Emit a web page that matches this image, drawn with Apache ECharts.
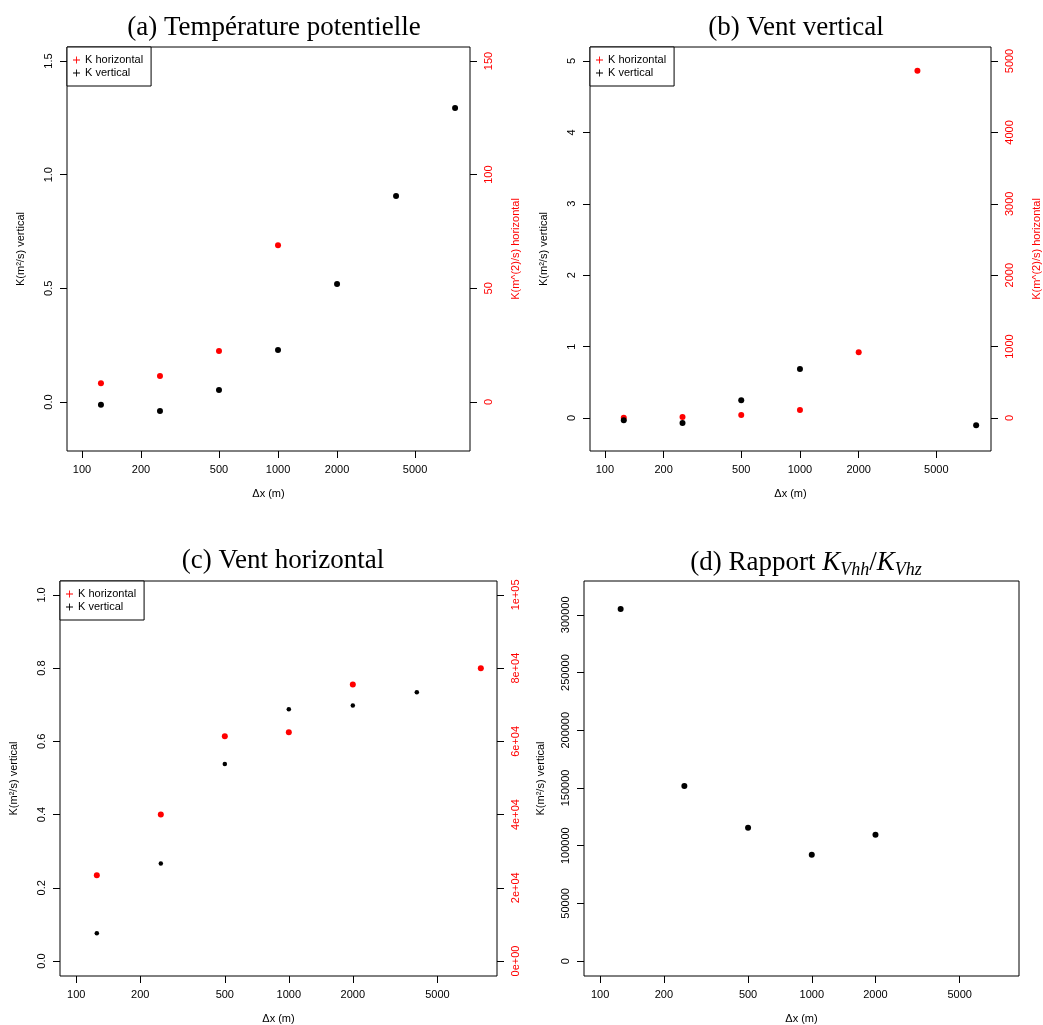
<!DOCTYPE html>
<html>
<head>
<meta charset="utf-8">
<script src="https://cdn.jsdelivr.net/npm/echarts@6/dist/echarts.min.js"></script>
<style>
  html, body { margin: 0; padding: 0; background: #fff; }
  #chart { width: 1043px; height: 1025px; }
</style>
</head>
<body>
<div id="chart"></div>
<script>
// (a) Température potentielle
var aHorizX = [125, 250, 500, 1000];
var aHoriz = [8.2, 11.4, 22.4, 69.0];
var aVertX = [125, 250, 500, 1000, 2000, 4000, 8000];
var aVert = [-0.012, -0.04, 0.053, 0.229, 0.519, 0.906, 1.293];

// (b) Vent vertical
var bHorizX = [125, 250, 500, 1000, 2000, 4000];
var bHoriz = [5, 14, 42, 112, 920, 4864];
var bVertX = [125, 250, 500, 1000, 8000];
var bVert = [-0.03, -0.07, 0.25, 0.686, -0.1];

// (c) Vent horizontal
var cHorizX = [125, 250, 500, 1000, 2000, 8000];
var cHoriz = [23400, 40000, 61400, 62500, 75500, 80000];
var cVertX = [125, 250, 500, 1000, 2000, 4000];
var cVert = [0.076, 0.266, 0.538, 0.688, 0.698, 0.734];

// (d) Rapport
var dRatioX = [125, 250, 500, 1000, 2000];
var dRatio = [305000, 151700, 115500, 92200, 109500];

// ticks
var xTicks = [100, 200, 500, 1000, 2000, 5000];
var aLeftTicks = [0, 0.5, 1, 1.5];
var aLeftLabels = ['0.0', '0.5', '1.0', '1.5'];
var aRightTicks = [0, 50, 100, 150];
var bLeftTicks = [0, 1, 2, 3, 4, 5];
var bRightTicks = [0, 1000, 2000, 3000, 4000, 5000];
var cLeftTicks = [0, 0.2, 0.4, 0.6, 0.8, 1.0];
var cLeftLabels = ['0.0', '0.2', '0.4', '0.6', '0.8', '1.0'];
var cRightTicks = [0, 20000, 40000, 60000, 80000, 100000];
var cRightLabels = ['0e+00', '2e+04', '4e+04', '6e+04', '8e+04', '1e+05'];
var dTicks = [0, 50000, 100000, 150000, 200000, 250000, 300000];

var chart = echarts.init(document.getElementById('chart'));

var sans = 'Liberation Sans, Arial, sans-serif';
var serif = 'Liberation Serif, Times New Roman, serif';
var plus = 'path://M3.5,0H4.5V3.5H8V4.5H4.5V8H3.5V4.5H0V3.5H3.5Z';

function pairs(xs, ys) {
  return xs.map(function (x, i) { return [x, ys[i]]; });
}

function lookup(ticks, labels) {
  return function (v) {
    for (var i = 0; i < ticks.length; i++) {
      if (Math.abs(ticks[i] - v) < 1e-6 * (Math.abs(ticks[i]) + 1)) return labels[i];
    }
    return String(v);
  };
}

function xAx(grid) {
  return {
    type: 'log', gridIndex: grid, min: 83.9, max: 9532,
    name: 'Δx (m)', nameLocation: 'middle', nameGap: 37,
    nameTextStyle: { fontFamily: sans, fontSize: 11, color: '#000' },
    axisLine: { show: false, onZero: false },
    splitLine: { show: false },
    axisTick: { show: true, length: 7, customValues: xTicks, lineStyle: { color: '#000' } },
    axisLabel: {
      customValues: xTicks, margin: 13, fontFamily: sans, fontSize: 11, color: '#000',
      formatter: function (v) { return String(Math.round(v)); }
    }
  };
}

function yAx(grid, pos, min, max, ticks, fmt, name, color, nameGap) {
  return {
    type: 'value', gridIndex: grid, position: pos, min: min, max: max,
    name: name, nameLocation: 'middle', nameGap: nameGap, nameRotate: 90,
    nameTextStyle: { fontFamily: sans, fontSize: 11, color: color },
    axisLine: { show: false, onZero: false },
    splitLine: { show: false },
    axisTick: { show: true, length: 7, customValues: ticks, lineStyle: { color: '#000' } },
    axisLabel: {
      customValues: ticks, rotate: 90, margin: 13, fontFamily: sans, fontSize: 11,
      color: color, formatter: fmt
    }
  };
}

function legendAt(left, top) {
  return {
    left: left, top: top, orient: 'vertical',
    data: ['K horizontal', 'K vertical'],
    icon: plus, itemWidth: 7, itemHeight: 7, itemGap: 1,
    padding: [7, 8, 7, 6],
    borderColor: '#000', borderWidth: 1, borderRadius: 0,
    backgroundColor: '#fff',
    textStyle: { fontFamily: sans, fontSize: 11, color: '#000', lineHeight: 12 },
    selectedMode: false
  };
}

function sc(name, color, size, xi, yi, data) {
  return {
    type: 'scatter', name: name, xAxisIndex: xi, yAxisIndex: yi,
    symbolSize: size, itemStyle: { color: color, opacity: 1 },
    data: data, animation: false, silent: true
  };
}

var num = function (v) { return String(Math.round(v)); };
var vLabel = 'K(m²/s) vertical';
var hLabel = 'K(m^(2)/s) horizontal';

var titleStyle = { fontFamily: serif, fontSize: 27, fontWeight: 'normal', color: '#000' };

var option = {
  backgroundColor: '#fff',
  animation: false,
  title: [
    { text: '(a) Température potentielle', left: 269, top: 9, textAlign: 'center', textStyle: titleStyle },
    { text: '(b) Vent vertical', left: 791, top: 9, textAlign: 'center', textStyle: titleStyle },
    { text: '(c) Vent horizontal', left: 278, top: 542, textAlign: 'center', textStyle: titleStyle },
    {
      text: '(d) Rapport {it|K}{sub|Vhh}/{it|K}{sub|Vhz}', left: 801, top: 542, textAlign: 'center',
      textStyle: Object.assign({}, titleStyle, {
        rich: {
          it: { fontFamily: serif, fontSize: 27, fontStyle: 'italic', color: '#000' },
          sub: { fontFamily: serif, fontSize: 18, fontStyle: 'italic', color: '#000', padding: [14, 0, 0, 0] }
        }
      })
    }
  ],
  legend: [legendAt(67, 47), legendAt(590, 47), legendAt(60, 581)],
  grid: [
    { left: 67, top: 47, width: 403, height: 404, show: true, borderColor: '#000', borderWidth: 1, backgroundColor: 'transparent' },
    { left: 590, top: 47, width: 403, height: 404, show: true, borderColor: '#000', borderWidth: 1, backgroundColor: 'transparent' },
    { left: 60, top: 581, width: 437, height: 397, show: true, borderColor: '#000', borderWidth: 1, backgroundColor: 'transparent' },
    { left: 584, top: 581, width: 435, height: 397, show: true, borderColor: '#000', borderWidth: 1, backgroundColor: 'transparent' }
  ],
  xAxis: [xAx(0), xAx(1), xAx(2), xAx(3)],
  yAxis: [
    yAx(0, 'left', -0.2155, 1.5616, aLeftTicks, lookup(aLeftTicks, aLeftLabels), vLabel, '#000', 41),
    yAx(0, 'right', -21.55, 156.16, aRightTicks, num, hLabel, '#ff0000', 40),
    yAx(1, 'left', -0.462, 5.196, bLeftTicks, num, vLabel, '#000', 41),
    yAx(1, 'right', -462, 5196, bRightTicks, num, hLabel, '#ff0000', 40),
    yAx(2, 'left', -0.041, 1.038, cLeftTicks, lookup(cLeftTicks, cLeftLabels), vLabel, '#000', 41),
    yAx(2, 'right', -4100, 103800, cRightTicks, lookup(cRightTicks, cRightLabels), '', '#ff0000', 40),
    yAx(3, 'left', -12931, 329310, dTicks, num, vLabel, '#000', 38)
  ],
  series: [
    sc('K horizontal', '#ff0000', 6, 0, 1, pairs(aHorizX, aHoriz)),
    sc('K vertical', '#000', 6, 0, 0, pairs(aVertX, aVert)),
    sc('K horizontal', '#ff0000', 6, 1, 3, pairs(bHorizX, bHoriz)),
    sc('K vertical', '#000', 6, 1, 2, pairs(bVertX, bVert)),
    sc('K horizontal', '#ff0000', 6, 2, 5, pairs(cHorizX, cHoriz)),
    sc('K vertical', '#000', 4.5, 2, 4, pairs(cVertX, cVert)),
    sc('ratio', '#000', 6, 3, 6, pairs(dRatioX, dRatio))
  ]
};

chart.setOption(option);
</script>
</body>
</html>
